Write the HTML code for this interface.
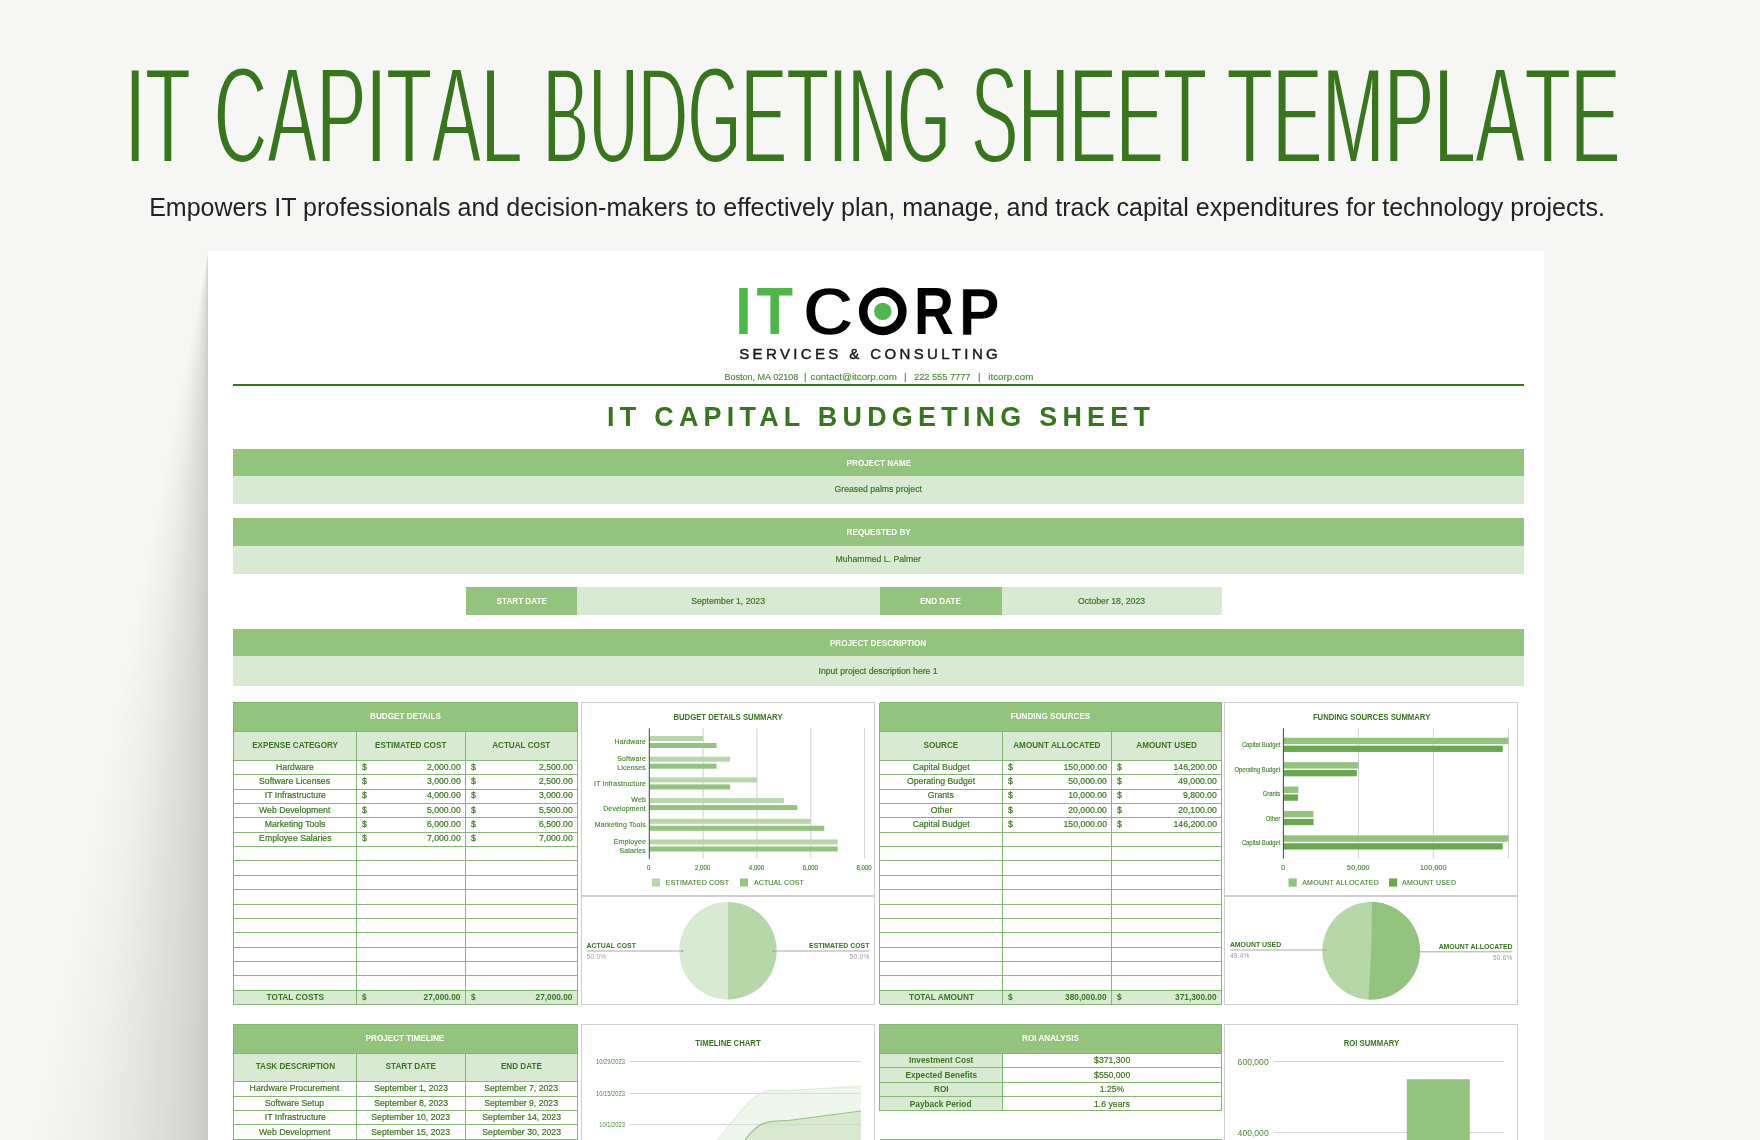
<!DOCTYPE html>
<html lang="en"><head><meta charset="utf-8"><title>IT Capital Budgeting Sheet Template</title>
<style>
html,body{margin:0;padding:0}
body{width:1760px;height:1140px;overflow:hidden;background:#f6f6f4;position:relative;font-family:"Liberation Sans", sans-serif;}
#pg>div,.abs{position:absolute}
#pg{position:absolute;left:0;top:0;width:1760px;height:1140px;overflow:hidden;will-change:transform}
.t{display:flex;align-items:center;white-space:nowrap;box-sizing:border-box;color:#38761d;}
.bigtitle{filter:url(#thin);left:0;top:40px;width:1760px;height:150px;text-align:center;color:#38761d;font-size:138px;line-height:150px;white-space:nowrap}
.bigtitle span{position:absolute;top:0;display:block;transform-origin:0 50%;font-kerning:none}
.sub{left:-3.5px;top:192px;width:1760px;text-align:center;font-size:26.5px;line-height:30px;transform:scaleX(0.9445);transform-origin:center center;color:#222;white-space:nowrap}
.svc{font-size:15px;letter-spacing:3.37px;color:#1a1a1a;padding-left:3.37px;-webkit-text-stroke:0.45px #1a1a1a}
.contact{font-size:9.9px;color:#4a8a33;-webkit-text-stroke:0.15px #4a8a33}
.sheettitle{font-size:26.9px;font-weight:700;letter-spacing:5.26px;padding-left:5.26px;color:#38761d}
.bh{font-size:9.3px;font-weight:700;color:#fff;padding-bottom:2px}
.bv{font-size:9.2px;padding-bottom:2px;-webkit-text-stroke:0.2px #38761d}
.th{font-size:9.3px;font-weight:700;padding-bottom:2px}
.td{font-size:9.2px;padding-bottom:2px;-webkit-text-stroke:0.2px #38761d}
.tt{font-size:9.3px;font-weight:700;padding-bottom:2px}
.b0{padding-bottom:0}
.tt2{padding-bottom:0.6px}
.tt3,.td3{padding-bottom:0}
.td2{padding-bottom:0.8px}
</style></head>
<body>
<svg class="abs" width="0" height="0" style="left:0;top:0"><defs><filter id="thin" x="0" y="0" width="100%" height="100%"><feMorphology operator="erode" radius="0 2"/></filter></defs></svg>
<div id="pg">
<div class="bigtitle"><span style="left:125.23px;transform:scaleX(0.5317)">IT</span> <span style="left:213.74px;transform:scaleX(0.5359)">CAPITAL</span> <span style="left:543.13px;transform:scaleX(0.4967)">BUDGETING</span> <span style="left:970.54px;transform:scaleX(0.512)">SHEET</span> <span style="left:1227.08px;transform:scaleX(0.5397)">TEMPLATE</span></div>
<div class="sub">Empowers IT professionals and decision-makers to effectively plan, manage, and track capital expenditures for technology projects.</div>
<div style="left:0;top:251px;width:208px;height:889px;background:conic-gradient(from 180deg at 100% 0%,rgba(0,0,0,.17) 0deg,rgba(0,0,0,.118) 2.2deg,rgba(0,0,0,.065) 5deg,rgba(0,0,0,.028) 7.9deg,rgba(0,0,0,.008) 10.2deg,rgba(0,0,0,0) 11.2deg,rgba(0,0,0,0) 360deg)"></div>
<div style="left:208px;top:251px;width:1336px;height:900px;background:#fff;"></div>
<svg class="abs" style="left:730px;top:280px" width="280" height="60" viewBox="730 280 280 60" font-family='"Liberation Sans", sans-serif' font-weight="700" font-size="100"><text transform="translate(735.15,334.30) scale(0.5901,0.6643)" fill="#4db848">I</text><text transform="translate(756.53,334.30) scale(0.5978,0.6643)" fill="#4db848">T</text><text transform="translate(802.80,335.03) scale(0.7066,0.6864)" fill="#000" stroke="#fff" stroke-width="2.01">C</text><text transform="translate(855.75,334.84) scale(0.6951,0.6808)" fill="#000" stroke="#fff" stroke-width="4.65">O</text><text transform="translate(914.01,334.30) scale(0.5514,0.6643)" fill="#000">R</text><text transform="translate(958.80,334.60) scale(0.6132,0.6730)" fill="#000" stroke="#fff" stroke-width="0.93">P</text><circle cx="882.75" cy="311.4" r="19.6" fill="none" stroke="#000" stroke-width="8.5"/><circle cx="882.8" cy="311.4" r="8.7" fill="#4db848"/></svg>
<div class="t svc" style="left:600px;top:343.2px;width:537px;height:20px;justify-content:center">SERVICES &amp; CONSULTING</div>
<div class="t contact" style="left:701.65px;top:369.4px;width:120px;height:14px;justify-content:center;"><span style="display:inline-block;transform:scaleX(0.9159);transform-origin:center center">Boston, MA 02108</span></div>
<div class="t contact" style="left:745.2px;top:369.4px;width:120px;height:14px;justify-content:center;">|</div>
<div class="t contact" style="left:794.05px;top:369.4px;width:120px;height:14px;justify-content:center;"><span style="display:inline-block;transform:scaleX(0.9872);transform-origin:center center">contact@itcorp.com</span></div>
<div class="t contact" style="left:845.4px;top:369.4px;width:120px;height:14px;justify-content:center;">|</div>
<div class="t contact" style="left:882.25px;top:369.4px;width:120px;height:14px;justify-content:center;"><span style="display:inline-block;transform:scaleX(0.9331);transform-origin:center center">222 555 7777</span></div>
<div class="t contact" style="left:919.4px;top:369.4px;width:120px;height:14px;justify-content:center;">|</div>
<div class="t contact" style="left:950.45px;top:369.4px;width:120px;height:14px;justify-content:center;"><span style="display:inline-block;transform:scaleX(0.9878);transform-origin:center center">itcorp.com</span></div>
<div style="left:233px;top:384px;width:1291px;height:2px;background:#38761d;"></div>
<div class="t sheettitle" style="left:233px;top:400.6px;width:1291px;height:33px;justify-content:center">IT CAPITAL BUDGETING SHEET</div>
<div style="left:233px;top:449px;width:1291px;height:27px;background:#93c47d;"></div>
<div style="left:233px;top:476px;width:1291px;height:28px;background:#d9ead3;"></div>
<div class="t bh b0" style="left:233px;top:449px;width:1291px;height:27px;justify-content:center;"><span style="display:inline-block;transform:scaleX(0.875);transform-origin:center center">PROJECT NAME</span></div>
<div class="t bv " style="left:233px;top:476px;width:1291px;height:28px;justify-content:center;"><span style="display:inline-block;transform:scaleX(0.945);transform-origin:center center">Greased palms project</span></div>
<div style="left:233px;top:518px;width:1291px;height:27.5px;background:#93c47d;"></div>
<div style="left:233px;top:545.5px;width:1291px;height:28px;background:#d9ead3;"></div>
<div class="t bh b0" style="left:233px;top:518px;width:1291px;height:27.5px;justify-content:center;"><span style="display:inline-block;transform:scaleX(0.875);transform-origin:center center">REQUESTED BY</span></div>
<div class="t bv " style="left:233px;top:545.5px;width:1291px;height:28px;justify-content:center;"><span style="display:inline-block;transform:scaleX(0.945);transform-origin:center center">Muhammed L. Palmer</span></div>
<div style="left:233px;top:629px;width:1291px;height:27px;background:#93c47d;"></div>
<div style="left:233px;top:656px;width:1291px;height:29.5px;background:#d9ead3;"></div>
<div class="t bh b0" style="left:233px;top:629px;width:1291px;height:27px;justify-content:center;"><span style="display:inline-block;transform:scaleX(0.875);transform-origin:center center">PROJECT DESCRIPTION</span></div>
<div class="t bv b0" style="left:233px;top:656px;width:1291px;height:29.5px;justify-content:center;"><span style="display:inline-block;transform:scaleX(0.945);transform-origin:center center">Input project description here 1</span></div>
<div style="left:465.5px;top:587px;width:111.5px;height:28.4px;background:#93c47d;"></div>
<div style="left:577px;top:587px;width:302.5px;height:28.4px;background:#d9ead3;"></div>
<div style="left:879.5px;top:587px;width:122.5px;height:28.4px;background:#93c47d;"></div>
<div style="left:1002px;top:587px;width:219.5px;height:28.4px;background:#d9ead3;"></div>
<div class="t bh b0" style="left:465.5px;top:587.5px;width:111.5px;height:27.75px;justify-content:center;"><span style="display:inline-block;transform:scaleX(0.875);transform-origin:center center">START DATE</span></div>
<div class="t bv b0" style="left:577px;top:587.5px;width:302.5px;height:27.75px;justify-content:center;"><span style="display:inline-block;transform:scaleX(0.945);transform-origin:center center">September 1, 2023</span></div>
<div class="t bh b0" style="left:879.5px;top:587.5px;width:122.5px;height:27.75px;justify-content:center;"><span style="display:inline-block;transform:scaleX(0.875);transform-origin:center center">END DATE</span></div>
<div class="t bv b0" style="left:1002px;top:587.5px;width:219.5px;height:27.75px;justify-content:center;"><span style="display:inline-block;transform:scaleX(0.945);transform-origin:center center">October 18, 2023</span></div>
<div style="left:233.25px;top:702.5px;width:344.25px;height:29px;background:#93c47d;"></div>
<div style="left:233.25px;top:731.5px;width:344.25px;height:29px;background:#d9ead3;"></div>
<div class="t bh" style="left:233.25px;top:702.5px;width:344.25px;height:29px;justify-content:center;"><span style="display:inline-block;transform:scaleX(0.875);transform-origin:center center">BUDGET DETAILS</span></div>
<div class="t th" style="left:233.25px;top:731.5px;width:123.25px;height:29px;justify-content:center;"><span style="display:inline-block;transform:scaleX(0.875);transform-origin:center center">EXPENSE CATEGORY</span></div>
<div class="t th" style="left:356.5px;top:731.5px;width:109px;height:29px;justify-content:center;"><span style="display:inline-block;transform:scaleX(0.875);transform-origin:center center">ESTIMATED COST</span></div>
<div class="t th" style="left:465.5px;top:731.5px;width:112px;height:29px;justify-content:center;"><span style="display:inline-block;transform:scaleX(0.875);transform-origin:center center">ACTUAL COST</span></div>
<div style="left:233.25px;top:990.1px;width:344.25px;height:14.35px;background:#d9ead3;"></div>
<div class="t td" style="left:233.25px;top:760.5px;width:123.25px;height:14.35px;justify-content:center;"><span style="display:inline-block;transform:scaleX(0.945);transform-origin:center center">Hardware</span></div>
<div class="t td" style="left:361.5px;top:760.5px;width:20px;height:14.35px;justify-content:flex-start;"><span style="display:inline-block;transform:scaleX(0.945);transform-origin:left center">$</span></div>
<div class="t td" style="left:356.5px;top:760.5px;width:104px;height:14.35px;justify-content:flex-end;"><span style="display:inline-block;transform:scaleX(0.945);transform-origin:right center">2,000.00</span></div>
<div class="t td" style="left:470.5px;top:760.5px;width:20px;height:14.35px;justify-content:flex-start;"><span style="display:inline-block;transform:scaleX(0.945);transform-origin:left center">$</span></div>
<div class="t td" style="left:465.5px;top:760.5px;width:107px;height:14.35px;justify-content:flex-end;"><span style="display:inline-block;transform:scaleX(0.945);transform-origin:right center">2,500.00</span></div>
<div class="t td" style="left:233.25px;top:774.85px;width:123.25px;height:14.35px;justify-content:center;"><span style="display:inline-block;transform:scaleX(0.945);transform-origin:center center">Software Licenses</span></div>
<div class="t td" style="left:361.5px;top:774.85px;width:20px;height:14.35px;justify-content:flex-start;"><span style="display:inline-block;transform:scaleX(0.945);transform-origin:left center">$</span></div>
<div class="t td" style="left:356.5px;top:774.85px;width:104px;height:14.35px;justify-content:flex-end;"><span style="display:inline-block;transform:scaleX(0.945);transform-origin:right center">3,000.00</span></div>
<div class="t td" style="left:470.5px;top:774.85px;width:20px;height:14.35px;justify-content:flex-start;"><span style="display:inline-block;transform:scaleX(0.945);transform-origin:left center">$</span></div>
<div class="t td" style="left:465.5px;top:774.85px;width:107px;height:14.35px;justify-content:flex-end;"><span style="display:inline-block;transform:scaleX(0.945);transform-origin:right center">2,500.00</span></div>
<div class="t td" style="left:233.25px;top:789.2px;width:123.25px;height:14.35px;justify-content:center;"><span style="display:inline-block;transform:scaleX(0.945);transform-origin:center center">IT Infrastructure</span></div>
<div class="t td" style="left:361.5px;top:789.2px;width:20px;height:14.35px;justify-content:flex-start;"><span style="display:inline-block;transform:scaleX(0.945);transform-origin:left center">$</span></div>
<div class="t td" style="left:356.5px;top:789.2px;width:104px;height:14.35px;justify-content:flex-end;"><span style="display:inline-block;transform:scaleX(0.945);transform-origin:right center">4,000.00</span></div>
<div class="t td" style="left:470.5px;top:789.2px;width:20px;height:14.35px;justify-content:flex-start;"><span style="display:inline-block;transform:scaleX(0.945);transform-origin:left center">$</span></div>
<div class="t td" style="left:465.5px;top:789.2px;width:107px;height:14.35px;justify-content:flex-end;"><span style="display:inline-block;transform:scaleX(0.945);transform-origin:right center">3,000.00</span></div>
<div class="t td" style="left:233.25px;top:803.55px;width:123.25px;height:14.35px;justify-content:center;"><span style="display:inline-block;transform:scaleX(0.945);transform-origin:center center">Web Development</span></div>
<div class="t td" style="left:361.5px;top:803.55px;width:20px;height:14.35px;justify-content:flex-start;"><span style="display:inline-block;transform:scaleX(0.945);transform-origin:left center">$</span></div>
<div class="t td" style="left:356.5px;top:803.55px;width:104px;height:14.35px;justify-content:flex-end;"><span style="display:inline-block;transform:scaleX(0.945);transform-origin:right center">5,000.00</span></div>
<div class="t td" style="left:470.5px;top:803.55px;width:20px;height:14.35px;justify-content:flex-start;"><span style="display:inline-block;transform:scaleX(0.945);transform-origin:left center">$</span></div>
<div class="t td" style="left:465.5px;top:803.55px;width:107px;height:14.35px;justify-content:flex-end;"><span style="display:inline-block;transform:scaleX(0.945);transform-origin:right center">5,500.00</span></div>
<div class="t td" style="left:233.25px;top:817.9px;width:123.25px;height:14.35px;justify-content:center;"><span style="display:inline-block;transform:scaleX(0.945);transform-origin:center center">Marketing Tools</span></div>
<div class="t td" style="left:361.5px;top:817.9px;width:20px;height:14.35px;justify-content:flex-start;"><span style="display:inline-block;transform:scaleX(0.945);transform-origin:left center">$</span></div>
<div class="t td" style="left:356.5px;top:817.9px;width:104px;height:14.35px;justify-content:flex-end;"><span style="display:inline-block;transform:scaleX(0.945);transform-origin:right center">6,000.00</span></div>
<div class="t td" style="left:470.5px;top:817.9px;width:20px;height:14.35px;justify-content:flex-start;"><span style="display:inline-block;transform:scaleX(0.945);transform-origin:left center">$</span></div>
<div class="t td" style="left:465.5px;top:817.9px;width:107px;height:14.35px;justify-content:flex-end;"><span style="display:inline-block;transform:scaleX(0.945);transform-origin:right center">6,500.00</span></div>
<div class="t td" style="left:233.25px;top:832.25px;width:123.25px;height:14.35px;justify-content:center;"><span style="display:inline-block;transform:scaleX(0.945);transform-origin:center center">Employee Salaries</span></div>
<div class="t td" style="left:361.5px;top:832.25px;width:20px;height:14.35px;justify-content:flex-start;"><span style="display:inline-block;transform:scaleX(0.945);transform-origin:left center">$</span></div>
<div class="t td" style="left:356.5px;top:832.25px;width:104px;height:14.35px;justify-content:flex-end;"><span style="display:inline-block;transform:scaleX(0.945);transform-origin:right center">7,000.00</span></div>
<div class="t td" style="left:470.5px;top:832.25px;width:20px;height:14.35px;justify-content:flex-start;"><span style="display:inline-block;transform:scaleX(0.945);transform-origin:left center">$</span></div>
<div class="t td" style="left:465.5px;top:832.25px;width:107px;height:14.35px;justify-content:flex-end;"><span style="display:inline-block;transform:scaleX(0.945);transform-origin:right center">7,000.00</span></div>
<div class="t tt tt2" style="left:233.25px;top:990.1px;width:123.25px;height:14.35px;justify-content:center;"><span style="display:inline-block;transform:scaleX(0.89);transform-origin:center center">TOTAL COSTS</span></div>
<div class="t tt tt2" style="left:361.5px;top:990.1px;width:20px;height:14.35px;justify-content:flex-start;"><span style="display:inline-block;transform:scaleX(0.89);transform-origin:left center">$</span></div>
<div class="t tt tt2" style="left:356.5px;top:990.1px;width:104px;height:14.35px;justify-content:flex-end;"><span style="display:inline-block;transform:scaleX(0.89);transform-origin:right center">27,000.00</span></div>
<div class="t tt tt2" style="left:470.5px;top:990.1px;width:20px;height:14.35px;justify-content:flex-start;"><span style="display:inline-block;transform:scaleX(0.89);transform-origin:left center">$</span></div>
<div class="t tt tt2" style="left:465.5px;top:990.1px;width:107px;height:14.35px;justify-content:flex-end;"><span style="display:inline-block;transform:scaleX(0.89);transform-origin:right center">27,000.00</span></div>
<div style="left:233.25px;top:702px;width:344.75px;height:1px;background:#84b771;"></div>
<div style="left:233.25px;top:731px;width:344.75px;height:1px;background:#84b771;"></div>
<div style="left:233.25px;top:760px;width:344.75px;height:1px;background:#84b771;"></div>
<div style="left:233.25px;top:774px;width:344.75px;height:1px;background:#84b771;"></div>
<div style="left:233.25px;top:789px;width:344.75px;height:1px;background:#84b771;"></div>
<div style="left:233.25px;top:803px;width:344.75px;height:1px;background:#84b771;"></div>
<div style="left:233.25px;top:817px;width:344.75px;height:1px;background:#84b771;"></div>
<div style="left:233.25px;top:832px;width:344.75px;height:1px;background:#84b771;"></div>
<div style="left:233.25px;top:846px;width:344.75px;height:1px;background:#84b771;"></div>
<div style="left:233.25px;top:860px;width:344.75px;height:1px;background:#84b771;"></div>
<div style="left:233.25px;top:875px;width:344.75px;height:1px;background:#84b771;"></div>
<div style="left:233.25px;top:889px;width:344.75px;height:1px;background:#84b771;"></div>
<div style="left:233.25px;top:904px;width:344.75px;height:1px;background:#84b771;"></div>
<div style="left:233.25px;top:918px;width:344.75px;height:1px;background:#84b771;"></div>
<div style="left:233.25px;top:932px;width:344.75px;height:1px;background:#84b771;"></div>
<div style="left:233.25px;top:947px;width:344.75px;height:1px;background:#84b771;"></div>
<div style="left:233.25px;top:961px;width:344.75px;height:1px;background:#84b771;"></div>
<div style="left:233.25px;top:975px;width:344.75px;height:1px;background:#84b771;"></div>
<div style="left:233.25px;top:990px;width:344.75px;height:1px;background:#84b771;"></div>
<div style="left:233.25px;top:1004px;width:344.75px;height:1px;background:#84b771;"></div>
<div style="left:233px;top:702.5px;width:1px;height:301.95px;background:#84b771;"></div>
<div style="left:577px;top:702.5px;width:1px;height:301.95px;background:#84b771;"></div>
<div style="left:356px;top:731.5px;width:1px;height:272.95px;background:#84b771;"></div>
<div style="left:465px;top:731.5px;width:1px;height:272.95px;background:#84b771;"></div>
<div style="left:879.5px;top:702.5px;width:342px;height:29px;background:#93c47d;"></div>
<div style="left:879.5px;top:731.5px;width:342px;height:29px;background:#d9ead3;"></div>
<div class="t bh" style="left:879.5px;top:702.5px;width:342px;height:29px;justify-content:center;"><span style="display:inline-block;transform:scaleX(0.875);transform-origin:center center">FUNDING SOURCES</span></div>
<div class="t th" style="left:879.5px;top:731.5px;width:123px;height:29px;justify-content:center;"><span style="display:inline-block;transform:scaleX(0.875);transform-origin:center center">SOURCE</span></div>
<div class="t th" style="left:1002.5px;top:731.5px;width:109.25px;height:29px;justify-content:center;"><span style="display:inline-block;transform:scaleX(0.875);transform-origin:center center">AMOUNT ALLOCATED</span></div>
<div class="t th" style="left:1111.75px;top:731.5px;width:109.75px;height:29px;justify-content:center;"><span style="display:inline-block;transform:scaleX(0.875);transform-origin:center center">AMOUNT USED</span></div>
<div style="left:879.5px;top:990.1px;width:342px;height:14.35px;background:#d9ead3;"></div>
<div class="t td" style="left:879.5px;top:760.5px;width:123px;height:14.35px;justify-content:center;"><span style="display:inline-block;transform:scaleX(0.945);transform-origin:center center">Capital Budget</span></div>
<div class="t td" style="left:1007.5px;top:760.5px;width:20px;height:14.35px;justify-content:flex-start;"><span style="display:inline-block;transform:scaleX(0.945);transform-origin:left center">$</span></div>
<div class="t td" style="left:1002.5px;top:760.5px;width:104.25px;height:14.35px;justify-content:flex-end;"><span style="display:inline-block;transform:scaleX(0.945);transform-origin:right center">150,000.00</span></div>
<div class="t td" style="left:1116.75px;top:760.5px;width:20px;height:14.35px;justify-content:flex-start;"><span style="display:inline-block;transform:scaleX(0.945);transform-origin:left center">$</span></div>
<div class="t td" style="left:1111.75px;top:760.5px;width:104.75px;height:14.35px;justify-content:flex-end;"><span style="display:inline-block;transform:scaleX(0.945);transform-origin:right center">146,200.00</span></div>
<div class="t td" style="left:879.5px;top:774.85px;width:123px;height:14.35px;justify-content:center;"><span style="display:inline-block;transform:scaleX(0.945);transform-origin:center center">Operating Budget</span></div>
<div class="t td" style="left:1007.5px;top:774.85px;width:20px;height:14.35px;justify-content:flex-start;"><span style="display:inline-block;transform:scaleX(0.945);transform-origin:left center">$</span></div>
<div class="t td" style="left:1002.5px;top:774.85px;width:104.25px;height:14.35px;justify-content:flex-end;"><span style="display:inline-block;transform:scaleX(0.945);transform-origin:right center">50,000.00</span></div>
<div class="t td" style="left:1116.75px;top:774.85px;width:20px;height:14.35px;justify-content:flex-start;"><span style="display:inline-block;transform:scaleX(0.945);transform-origin:left center">$</span></div>
<div class="t td" style="left:1111.75px;top:774.85px;width:104.75px;height:14.35px;justify-content:flex-end;"><span style="display:inline-block;transform:scaleX(0.945);transform-origin:right center">49,000.00</span></div>
<div class="t td" style="left:879.5px;top:789.2px;width:123px;height:14.35px;justify-content:center;"><span style="display:inline-block;transform:scaleX(0.945);transform-origin:center center">Grants</span></div>
<div class="t td" style="left:1007.5px;top:789.2px;width:20px;height:14.35px;justify-content:flex-start;"><span style="display:inline-block;transform:scaleX(0.945);transform-origin:left center">$</span></div>
<div class="t td" style="left:1002.5px;top:789.2px;width:104.25px;height:14.35px;justify-content:flex-end;"><span style="display:inline-block;transform:scaleX(0.945);transform-origin:right center">10,000.00</span></div>
<div class="t td" style="left:1116.75px;top:789.2px;width:20px;height:14.35px;justify-content:flex-start;"><span style="display:inline-block;transform:scaleX(0.945);transform-origin:left center">$</span></div>
<div class="t td" style="left:1111.75px;top:789.2px;width:104.75px;height:14.35px;justify-content:flex-end;"><span style="display:inline-block;transform:scaleX(0.945);transform-origin:right center">9,800.00</span></div>
<div class="t td" style="left:879.5px;top:803.55px;width:123px;height:14.35px;justify-content:center;"><span style="display:inline-block;transform:scaleX(0.945);transform-origin:center center">Other</span></div>
<div class="t td" style="left:1007.5px;top:803.55px;width:20px;height:14.35px;justify-content:flex-start;"><span style="display:inline-block;transform:scaleX(0.945);transform-origin:left center">$</span></div>
<div class="t td" style="left:1002.5px;top:803.55px;width:104.25px;height:14.35px;justify-content:flex-end;"><span style="display:inline-block;transform:scaleX(0.945);transform-origin:right center">20,000.00</span></div>
<div class="t td" style="left:1116.75px;top:803.55px;width:20px;height:14.35px;justify-content:flex-start;"><span style="display:inline-block;transform:scaleX(0.945);transform-origin:left center">$</span></div>
<div class="t td" style="left:1111.75px;top:803.55px;width:104.75px;height:14.35px;justify-content:flex-end;"><span style="display:inline-block;transform:scaleX(0.945);transform-origin:right center">20,100.00</span></div>
<div class="t td" style="left:879.5px;top:817.9px;width:123px;height:14.35px;justify-content:center;"><span style="display:inline-block;transform:scaleX(0.945);transform-origin:center center">Capital Budget</span></div>
<div class="t td" style="left:1007.5px;top:817.9px;width:20px;height:14.35px;justify-content:flex-start;"><span style="display:inline-block;transform:scaleX(0.945);transform-origin:left center">$</span></div>
<div class="t td" style="left:1002.5px;top:817.9px;width:104.25px;height:14.35px;justify-content:flex-end;"><span style="display:inline-block;transform:scaleX(0.945);transform-origin:right center">150,000.00</span></div>
<div class="t td" style="left:1116.75px;top:817.9px;width:20px;height:14.35px;justify-content:flex-start;"><span style="display:inline-block;transform:scaleX(0.945);transform-origin:left center">$</span></div>
<div class="t td" style="left:1111.75px;top:817.9px;width:104.75px;height:14.35px;justify-content:flex-end;"><span style="display:inline-block;transform:scaleX(0.945);transform-origin:right center">146,200.00</span></div>
<div class="t tt tt2" style="left:879.5px;top:990.1px;width:123px;height:14.35px;justify-content:center;"><span style="display:inline-block;transform:scaleX(0.89);transform-origin:center center">TOTAL AMOUNT</span></div>
<div class="t tt tt2" style="left:1007.5px;top:990.1px;width:20px;height:14.35px;justify-content:flex-start;"><span style="display:inline-block;transform:scaleX(0.89);transform-origin:left center">$</span></div>
<div class="t tt tt2" style="left:1002.5px;top:990.1px;width:104.25px;height:14.35px;justify-content:flex-end;"><span style="display:inline-block;transform:scaleX(0.89);transform-origin:right center">380,000.00</span></div>
<div class="t tt tt2" style="left:1116.75px;top:990.1px;width:20px;height:14.35px;justify-content:flex-start;"><span style="display:inline-block;transform:scaleX(0.89);transform-origin:left center">$</span></div>
<div class="t tt tt2" style="left:1111.75px;top:990.1px;width:104.75px;height:14.35px;justify-content:flex-end;"><span style="display:inline-block;transform:scaleX(0.89);transform-origin:right center">371,300.00</span></div>
<div style="left:879.5px;top:702px;width:342.5px;height:1px;background:#84b771;"></div>
<div style="left:879.5px;top:731px;width:342.5px;height:1px;background:#84b771;"></div>
<div style="left:879.5px;top:760px;width:342.5px;height:1px;background:#84b771;"></div>
<div style="left:879.5px;top:774px;width:342.5px;height:1px;background:#84b771;"></div>
<div style="left:879.5px;top:789px;width:342.5px;height:1px;background:#84b771;"></div>
<div style="left:879.5px;top:803px;width:342.5px;height:1px;background:#84b771;"></div>
<div style="left:879.5px;top:817px;width:342.5px;height:1px;background:#84b771;"></div>
<div style="left:879.5px;top:832px;width:342.5px;height:1px;background:#84b771;"></div>
<div style="left:879.5px;top:846px;width:342.5px;height:1px;background:#84b771;"></div>
<div style="left:879.5px;top:860px;width:342.5px;height:1px;background:#84b771;"></div>
<div style="left:879.5px;top:875px;width:342.5px;height:1px;background:#84b771;"></div>
<div style="left:879.5px;top:889px;width:342.5px;height:1px;background:#84b771;"></div>
<div style="left:879.5px;top:904px;width:342.5px;height:1px;background:#84b771;"></div>
<div style="left:879.5px;top:918px;width:342.5px;height:1px;background:#84b771;"></div>
<div style="left:879.5px;top:932px;width:342.5px;height:1px;background:#84b771;"></div>
<div style="left:879.5px;top:947px;width:342.5px;height:1px;background:#84b771;"></div>
<div style="left:879.5px;top:961px;width:342.5px;height:1px;background:#84b771;"></div>
<div style="left:879.5px;top:975px;width:342.5px;height:1px;background:#84b771;"></div>
<div style="left:879.5px;top:990px;width:342.5px;height:1px;background:#84b771;"></div>
<div style="left:879.5px;top:1004px;width:342.5px;height:1px;background:#84b771;"></div>
<div style="left:879px;top:702.5px;width:1px;height:301.95px;background:#84b771;"></div>
<div style="left:1221px;top:702.5px;width:1px;height:301.95px;background:#84b771;"></div>
<div style="left:1002px;top:731.5px;width:1px;height:272.95px;background:#84b771;"></div>
<div style="left:1111px;top:731.5px;width:1px;height:272.95px;background:#84b771;"></div>
<div style="left:233.25px;top:1024px;width:344.25px;height:29.3px;background:#93c47d;"></div>
<div style="left:233.25px;top:1053.3px;width:344.25px;height:28.4px;background:#d9ead3;"></div>
<div class="t bh" style="left:233.25px;top:1024px;width:344.25px;height:29.3px;justify-content:center;"><span style="display:inline-block;transform:scaleX(0.875);transform-origin:center center">PROJECT TIMELINE</span></div>
<div class="t th" style="left:233.25px;top:1053.3px;width:123.25px;height:28.4px;justify-content:center;"><span style="display:inline-block;transform:scaleX(0.875);transform-origin:center center">TASK DESCRIPTION</span></div>
<div class="t th" style="left:356.5px;top:1053.3px;width:109px;height:28.4px;justify-content:center;"><span style="display:inline-block;transform:scaleX(0.875);transform-origin:center center">START DATE</span></div>
<div class="t th" style="left:465.5px;top:1053.3px;width:112px;height:28.4px;justify-content:center;"><span style="display:inline-block;transform:scaleX(0.875);transform-origin:center center">END DATE</span></div>
<div class="t td td2" style="left:233.25px;top:1081.7px;width:123.25px;height:14.35px;justify-content:center;"><span style="display:inline-block;transform:scaleX(0.945);transform-origin:center center">Hardware Procurement</span></div>
<div class="t td td2" style="left:356.5px;top:1081.7px;width:109px;height:14.35px;justify-content:center;"><span style="display:inline-block;transform:scaleX(0.945);transform-origin:center center">September 1, 2023</span></div>
<div class="t td td2" style="left:465.5px;top:1081.7px;width:112px;height:14.35px;justify-content:center;"><span style="display:inline-block;transform:scaleX(0.945);transform-origin:center center">September 7, 2023</span></div>
<div class="t td td2" style="left:233.25px;top:1096.05px;width:123.25px;height:14.35px;justify-content:center;"><span style="display:inline-block;transform:scaleX(0.945);transform-origin:center center">Software Setup</span></div>
<div class="t td td2" style="left:356.5px;top:1096.05px;width:109px;height:14.35px;justify-content:center;"><span style="display:inline-block;transform:scaleX(0.945);transform-origin:center center">September 8, 2023</span></div>
<div class="t td td2" style="left:465.5px;top:1096.05px;width:112px;height:14.35px;justify-content:center;"><span style="display:inline-block;transform:scaleX(0.945);transform-origin:center center">September 9, 2023</span></div>
<div class="t td td2" style="left:233.25px;top:1110.4px;width:123.25px;height:14.35px;justify-content:center;"><span style="display:inline-block;transform:scaleX(0.945);transform-origin:center center">IT Infrastructure</span></div>
<div class="t td td2" style="left:356.5px;top:1110.4px;width:109px;height:14.35px;justify-content:center;"><span style="display:inline-block;transform:scaleX(0.945);transform-origin:center center">September 10, 2023</span></div>
<div class="t td td2" style="left:465.5px;top:1110.4px;width:112px;height:14.35px;justify-content:center;"><span style="display:inline-block;transform:scaleX(0.945);transform-origin:center center">September 14, 2023</span></div>
<div class="t td td2" style="left:233.25px;top:1124.75px;width:123.25px;height:14.35px;justify-content:center;"><span style="display:inline-block;transform:scaleX(0.945);transform-origin:center center">Web Development</span></div>
<div class="t td td2" style="left:356.5px;top:1124.75px;width:109px;height:14.35px;justify-content:center;"><span style="display:inline-block;transform:scaleX(0.945);transform-origin:center center">September 15, 2023</span></div>
<div class="t td td2" style="left:465.5px;top:1124.75px;width:112px;height:14.35px;justify-content:center;"><span style="display:inline-block;transform:scaleX(0.945);transform-origin:center center">September 30, 2023</span></div>
<div style="left:233.25px;top:1024px;width:344.75px;height:1px;background:#84b771;"></div>
<div style="left:233.25px;top:1053px;width:344.75px;height:1px;background:#84b771;"></div>
<div style="left:233.25px;top:1081px;width:344.75px;height:1px;background:#84b771;"></div>
<div style="left:233.25px;top:1096px;width:344.75px;height:1px;background:#84b771;"></div>
<div style="left:233.25px;top:1110px;width:344.75px;height:1px;background:#84b771;"></div>
<div style="left:233.25px;top:1124px;width:344.75px;height:1px;background:#84b771;"></div>
<div style="left:233.25px;top:1139px;width:344.75px;height:1px;background:#84b771;"></div>
<div style="left:233px;top:1024px;width:1px;height:117px;background:#84b771;"></div>
<div style="left:577px;top:1024px;width:1px;height:117px;background:#84b771;"></div>
<div style="left:356px;top:1053.3px;width:1px;height:87.7px;background:#84b771;"></div>
<div style="left:465px;top:1053.3px;width:1px;height:87.7px;background:#84b771;"></div>
<div style="left:879.5px;top:1024px;width:342px;height:29px;background:#93c47d;"></div>
<div class="t bh" style="left:879.5px;top:1024px;width:342px;height:29px;justify-content:center;"><span style="display:inline-block;transform:scaleX(0.875);transform-origin:center center">ROI ANALYSIS</span></div>
<div style="left:879.5px;top:1053.3px;width:123px;height:57.4px;background:#d9ead3;"></div>
<div class="t tt tt3" style="left:879.5px;top:1053.3px;width:123px;height:14.35px;justify-content:center;"><span style="display:inline-block;transform:scaleX(0.89);transform-origin:center center">Investment Cost</span></div>
<div class="t td td3" style="left:1002.5px;top:1053.3px;width:219px;height:14.35px;justify-content:center;"><span style="display:inline-block;transform:scaleX(0.945);transform-origin:center center">$371,300</span></div>
<div class="t tt tt3" style="left:879.5px;top:1067.65px;width:123px;height:14.35px;justify-content:center;"><span style="display:inline-block;transform:scaleX(0.89);transform-origin:center center">Expected Benefits</span></div>
<div class="t td td3" style="left:1002.5px;top:1067.65px;width:219px;height:14.35px;justify-content:center;"><span style="display:inline-block;transform:scaleX(0.945);transform-origin:center center">$550,000</span></div>
<div class="t tt tt3" style="left:879.5px;top:1082px;width:123px;height:14.35px;justify-content:center;"><span style="display:inline-block;transform:scaleX(0.89);transform-origin:center center">ROI</span></div>
<div class="t td td3" style="left:1002.5px;top:1082px;width:219px;height:14.35px;justify-content:center;"><span style="display:inline-block;transform:scaleX(0.945);transform-origin:center center">1.25%</span></div>
<div class="t tt tt3" style="left:879.5px;top:1096.35px;width:123px;height:14.35px;justify-content:center;"><span style="display:inline-block;transform:scaleX(0.89);transform-origin:center center">Payback Period</span></div>
<div class="t td td3" style="left:1002.5px;top:1096.35px;width:219px;height:14.35px;justify-content:center;"><span style="display:inline-block;transform:scaleX(0.945);transform-origin:center center">1.6 years</span></div>
<div style="left:879.5px;top:1024px;width:342.5px;height:1px;background:#84b771;"></div>
<div style="left:879.5px;top:1053px;width:342.5px;height:1px;background:#84b771;"></div>
<div style="left:879.5px;top:1067px;width:342.5px;height:1px;background:#84b771;"></div>
<div style="left:879.5px;top:1082px;width:342.5px;height:1px;background:#84b771;"></div>
<div style="left:879.5px;top:1096px;width:342.5px;height:1px;background:#84b771;"></div>
<div style="left:879.5px;top:1110px;width:342.5px;height:1px;background:#84b771;"></div>
<div style="left:879px;top:1024px;width:1px;height:86.7px;background:#84b771;"></div>
<div style="left:1221px;top:1024px;width:1px;height:86.7px;background:#84b771;"></div>
<div style="left:1002px;top:1053px;width:1px;height:57.7px;background:#84b771;"></div>
<div style="left:879.5px;top:1139px;width:342.5px;height:1px;background:#84b771;"></div>
<svg class="abs" style="left:575px;top:695px" width="950" height="445" viewBox="575 695 950 445" font-family='"Liberation Sans", sans-serif'>
<rect x="581.5" y="702.5" width="293" height="193" fill="#fff" stroke="#cfcfcf" stroke-width="1"/>
<text x="0" y="0" transform="translate(728,719.7) scale(0.9,1)" font-size="8.6" text-anchor="middle" fill="#38761d" font-weight="700">BUDGET DETAILS SUMMARY</text>
<line x1="703.13" y1="728.3" x2="703.13" y2="859" stroke="#d0d0d0" stroke-width="1"/>
<line x1="756.96" y1="728.3" x2="756.96" y2="859" stroke="#d0d0d0" stroke-width="1"/>
<line x1="810.79" y1="728.3" x2="810.79" y2="859" stroke="#d0d0d0" stroke-width="1"/>
<line x1="864.62" y1="728.3" x2="864.62" y2="859" stroke="#d0d0d0" stroke-width="1"/>
<rect x="649.3" y="736" width="53.83" height="5" fill="#b6d7a8"/>
<rect x="649.3" y="743" width="67.29" height="5" fill="#93c47d"/>
<text x="646" y="744.4" font-size="6.9" text-anchor="end" fill="#43882d" font-weight="400" letter-spacing="0.2" stroke="#43882d" stroke-width="0.15">Hardware</text>
<rect x="649.3" y="756.7" width="80.75" height="5" fill="#b6d7a8"/>
<rect x="649.3" y="763.7" width="67.29" height="5" fill="#93c47d"/>
<text x="646" y="760.7" font-size="6.9" text-anchor="end" fill="#43882d" font-weight="400" letter-spacing="0.2" stroke="#43882d" stroke-width="0.15">Software</text>
<text x="646" y="769.7" font-size="6.9" text-anchor="end" fill="#43882d" font-weight="400" letter-spacing="0.2" stroke="#43882d" stroke-width="0.15">Licenses</text>
<rect x="649.3" y="777.4" width="107.66" height="5" fill="#b6d7a8"/>
<rect x="649.3" y="784.4" width="80.75" height="5" fill="#93c47d"/>
<text x="646" y="785.8" font-size="6.9" text-anchor="end" fill="#43882d" font-weight="400" letter-spacing="0.2" stroke="#43882d" stroke-width="0.15">IT Infrastructure</text>
<rect x="649.3" y="798.1" width="134.57" height="5" fill="#b6d7a8"/>
<rect x="649.3" y="805.1" width="148.03" height="5" fill="#93c47d"/>
<text x="646" y="802.1" font-size="6.9" text-anchor="end" fill="#43882d" font-weight="400" letter-spacing="0.2" stroke="#43882d" stroke-width="0.15">Web</text>
<text x="646" y="811.1" font-size="6.9" text-anchor="end" fill="#43882d" font-weight="400" letter-spacing="0.2" stroke="#43882d" stroke-width="0.15">Development</text>
<rect x="649.3" y="818.8" width="161.49" height="5" fill="#b6d7a8"/>
<rect x="649.3" y="825.8" width="174.95" height="5" fill="#93c47d"/>
<text x="646" y="827.2" font-size="6.9" text-anchor="end" fill="#43882d" font-weight="400" letter-spacing="0.2" stroke="#43882d" stroke-width="0.15">Marketing Tools</text>
<rect x="649.3" y="839.5" width="188.41" height="5" fill="#b6d7a8"/>
<rect x="649.3" y="846.5" width="188.41" height="5" fill="#93c47d"/>
<text x="646" y="843.5" font-size="6.9" text-anchor="end" fill="#43882d" font-weight="400" letter-spacing="0.2" stroke="#43882d" stroke-width="0.15">Employee</text>
<text x="646" y="852.5" font-size="6.9" text-anchor="end" fill="#43882d" font-weight="400" letter-spacing="0.2" stroke="#43882d" stroke-width="0.15">Salaries</text>
<line x1="649.3" y1="728.3" x2="649.3" y2="859" stroke="#444" stroke-width="1"/>
<text x="0" y="0" transform="translate(648.8,869.6) scale(0.92,1)" font-size="6.6" text-anchor="middle" fill="#43882d" font-weight="400" stroke="#43882d" stroke-width="0.15">0</text>
<text x="0" y="0" transform="translate(702.63,869.6) scale(0.92,1)" font-size="6.6" text-anchor="middle" fill="#43882d" font-weight="400" stroke="#43882d" stroke-width="0.15">2,000</text>
<text x="0" y="0" transform="translate(756.46,869.6) scale(0.92,1)" font-size="6.6" text-anchor="middle" fill="#43882d" font-weight="400" stroke="#43882d" stroke-width="0.15">4,000</text>
<text x="0" y="0" transform="translate(810.29,869.6) scale(0.92,1)" font-size="6.6" text-anchor="middle" fill="#43882d" font-weight="400" stroke="#43882d" stroke-width="0.15">6,000</text>
<text x="0" y="0" transform="translate(864.12,869.6) scale(0.92,1)" font-size="6.6" text-anchor="middle" fill="#43882d" font-weight="400" stroke="#43882d" stroke-width="0.15">8,000</text>
<rect x="652" y="878.5" width="8" height="8" fill="#b6d7a8"/>
<text x="665.8" y="885.2" font-size="7" text-anchor="start" fill="#43882d" font-weight="400" letter-spacing="0.17" stroke="#43882d" stroke-width="0.12">ESTIMATED COST</text>
<rect x="740" y="878.5" width="8" height="8" fill="#93c47d"/>
<text x="754" y="885.2" font-size="7" text-anchor="start" fill="#43882d" font-weight="400" letter-spacing="0.1" stroke="#43882d" stroke-width="0.12">ACTUAL COST</text>
<rect x="581.5" y="896.5" width="293" height="108" fill="#fff" stroke="#cfcfcf" stroke-width="1"/>
<path d="M728,902.0999999999999 A48.7,48.7 0 0 1 728,999.5 Z" fill="#b6d7a8"/>
<path d="M728,902.0999999999999 A48.7,48.7 0 0 0 728,999.5 Z" fill="#d9ead3"/>
<line x1="586.6" y1="951" x2="682.4" y2="951" stroke="#a8a8a8" stroke-width="1"/><circle cx="682.4" cy="951" r="1.1" fill="#a8a8a8"/>
<line x1="773.4" y1="951" x2="869.4" y2="951" stroke="#a8a8a8" stroke-width="1"/><circle cx="773.4" cy="951" r="1.1" fill="#a8a8a8"/>
<text x="586.6" y="948" font-size="6.9" text-anchor="start" fill="#38761d" font-weight="700">ACTUAL COST</text>
<text x="586.6" y="959.2" font-size="6.4" text-anchor="start" fill="#9a9a9a" font-weight="400" letter-spacing="0.3">50.0%</text>
<text x="869.4" y="948" font-size="6.9" text-anchor="end" fill="#38761d" font-weight="700">ESTIMATED COST</text>
<text x="869.4" y="959.2" font-size="6.4" text-anchor="end" fill="#9a9a9a" font-weight="400" letter-spacing="0.3">50.0%</text>
<rect x="1224.5" y="702.5" width="293" height="193" fill="#fff" stroke="#cfcfcf" stroke-width="1"/>
<text x="0" y="0" transform="translate(1371.6,719.5) scale(0.9,1)" font-size="8.6" text-anchor="middle" fill="#38761d" font-weight="700">FUNDING SOURCES SUMMARY</text>
<line x1="1358.4" y1="728.4" x2="1358.4" y2="858.5" stroke="#d0d0d0" stroke-width="1"/>
<line x1="1433.4" y1="728.4" x2="1433.4" y2="858.5" stroke="#d0d0d0" stroke-width="1"/>
<line x1="1508.4" y1="728.4" x2="1508.4" y2="858.5" stroke="#d0d0d0" stroke-width="1"/>
<rect x="1283.4" y="737.75" width="225" height="6.4" fill="#93c47d"/>
<rect x="1283.4" y="745.65" width="219.3" height="6.3" fill="#6aa84f"/>
<text x="0" y="0" transform="translate(1280.3,747.35) scale(0.85,1)" font-size="6.9" text-anchor="end" fill="#43882d" font-weight="400" stroke="#43882d" stroke-width="0.15">Capital Budget</text>
<rect x="1283.4" y="762.15" width="75" height="6.4" fill="#93c47d"/>
<rect x="1283.4" y="770.05" width="73.5" height="6.3" fill="#6aa84f"/>
<text x="0" y="0" transform="translate(1280.3,771.75) scale(0.85,1)" font-size="6.9" text-anchor="end" fill="#43882d" font-weight="400" stroke="#43882d" stroke-width="0.15">Operating Budget</text>
<rect x="1283.4" y="786.55" width="15" height="6.4" fill="#93c47d"/>
<rect x="1283.4" y="794.45" width="14.7" height="6.3" fill="#6aa84f"/>
<text x="0" y="0" transform="translate(1280.3,796.15) scale(0.85,1)" font-size="6.9" text-anchor="end" fill="#43882d" font-weight="400" stroke="#43882d" stroke-width="0.15">Grants</text>
<rect x="1283.4" y="810.95" width="30" height="6.4" fill="#93c47d"/>
<rect x="1283.4" y="818.85" width="30.15" height="6.3" fill="#6aa84f"/>
<text x="0" y="0" transform="translate(1280.3,820.55) scale(0.85,1)" font-size="6.9" text-anchor="end" fill="#43882d" font-weight="400" stroke="#43882d" stroke-width="0.15">Other</text>
<rect x="1283.4" y="835.35" width="225" height="6.4" fill="#93c47d"/>
<rect x="1283.4" y="843.25" width="219.3" height="6.3" fill="#6aa84f"/>
<text x="0" y="0" transform="translate(1280.3,844.95) scale(0.85,1)" font-size="6.9" text-anchor="end" fill="#43882d" font-weight="400" stroke="#43882d" stroke-width="0.15">Capital Budget</text>
<line x1="1283.4" y1="728.4" x2="1283.4" y2="858.5" stroke="#444" stroke-width="1"/>
<text x="1283.4" y="869.6" font-size="7" text-anchor="middle" fill="#43882d" font-weight="400" letter-spacing="0.2" stroke="#43882d" stroke-width="0.15">0</text>
<text x="1358.4" y="869.6" font-size="7" text-anchor="middle" fill="#43882d" font-weight="400" letter-spacing="0.2" stroke="#43882d" stroke-width="0.15">50,000</text>
<text x="1433.4" y="869.6" font-size="7" text-anchor="middle" fill="#43882d" font-weight="400" letter-spacing="0.2" stroke="#43882d" stroke-width="0.15">100,000</text>
<rect x="1288.5" y="878.4" width="8.2" height="8.2" fill="#93c47d"/>
<text x="1302.2" y="885.2" font-size="7" text-anchor="start" fill="#43882d" font-weight="400" letter-spacing="0.25" stroke="#43882d" stroke-width="0.12">AMOUNT ALLOCATED</text>
<rect x="1389" y="878.4" width="8.2" height="8.2" fill="#6aa84f"/>
<text x="1402" y="885.2" font-size="7" text-anchor="start" fill="#43882d" font-weight="400" letter-spacing="0.25" stroke="#43882d" stroke-width="0.12">AMOUNT USED</text>
<rect x="1224.5" y="896.5" width="293" height="108" fill="#fff" stroke="#cfcfcf" stroke-width="1"/>
<circle cx="1371.2" cy="950.8" r="48.8" fill="#b6d7a8"/>
<path d="M1371.2,950.8 L1372.03,902.01 A48.8,48.8 0 1 1 1368.53,999.53 Z" fill="#93c47d"/>
<line x1="1229.9" y1="950" x2="1325.7" y2="950" stroke="#a8a8a8" stroke-width="1"/><circle cx="1325.7" cy="950" r="1.1" fill="#a8a8a8"/>
<line x1="1416.7" y1="951.8" x2="1512.5" y2="951.8" stroke="#a8a8a8" stroke-width="1"/><circle cx="1416.7" cy="951.8" r="1.1" fill="#a8a8a8"/>
<text x="1229.9" y="947" font-size="6.9" text-anchor="start" fill="#38761d" font-weight="700">AMOUNT USED</text>
<text x="1229.9" y="958" font-size="6.4" text-anchor="start" fill="#9a9a9a" font-weight="400" letter-spacing="0.3">49.4%</text>
<text x="1512.5" y="949" font-size="6.9" text-anchor="end" fill="#38761d" font-weight="700">AMOUNT ALLOCATED</text>
<text x="1512.5" y="960.2" font-size="6.4" text-anchor="end" fill="#9a9a9a" font-weight="400" letter-spacing="0.3">50.6%</text>
<rect x="581.5" y="1024.5" width="293" height="135.5" fill="#fff" stroke="#cfcfcf" stroke-width="1"/>
<text x="0" y="0" transform="translate(728,1045.8) scale(0.9,1)" font-size="8.6" text-anchor="middle" fill="#38761d" font-weight="700">TIMELINE CHART</text>
<line x1="629.4" y1="1061.5" x2="861.1" y2="1061.5" stroke="#d6d6d6" stroke-width="1"/>
<text x="0" y="0" transform="translate(625,1063.9) scale(0.88,1)" font-size="6.6" text-anchor="end" fill="#4a8a33" font-weight="400">10/29/2023</text>
<line x1="629.4" y1="1093.5" x2="861.1" y2="1093.5" stroke="#d6d6d6" stroke-width="1"/>
<text x="0" y="0" transform="translate(625,1095.9) scale(0.88,1)" font-size="6.6" text-anchor="end" fill="#4a8a33" font-weight="400">10/15/2023</text>
<line x1="629.4" y1="1124.5" x2="861.1" y2="1124.5" stroke="#d6d6d6" stroke-width="1"/>
<text x="0" y="0" transform="translate(625,1126.9) scale(0.88,1)" font-size="6.6" text-anchor="end" fill="#4a8a33" font-weight="400">10/1/2023</text>
<path d="M700,1160 L717.5,1140 C740,1112 752,1094 768,1090.6 C775,1089.5 782,1091 790,1090.5 L861,1086.2 L861,1160 Z" fill="#d9ead3" fill-opacity="0.45"/>
<path d="M700,1160 L717.5,1140 C740,1112 752,1094 768,1090.6 C775,1089.5 782,1091 790,1090.5 L861,1086.2" fill="none" stroke="#d9ead3" stroke-width="1"/>
<path d="M733,1160 L745,1140 C756,1126 762,1122.5 772.3,1121.3 C780,1120.5 786,1121 792,1120 L861,1111 L861,1160 Z" fill="#b6d7a8" fill-opacity="0.4"/>
<path d="M733,1160 L745,1140 C756,1126 762,1122.5 772.3,1121.3 C780,1120.5 786,1121 792,1120 L861,1111" fill="none" stroke="#93c47d" stroke-width="1.2"/>
<rect x="1224.5" y="1024.5" width="293" height="135.5" fill="#fff" stroke="#cfcfcf" stroke-width="1"/>
<text x="0" y="0" transform="translate(1371.5,1045.8) scale(0.9,1)" font-size="8.6" text-anchor="middle" fill="#38761d" font-weight="700">ROI SUMMARY</text>
<line x1="1273.8" y1="1061.5" x2="1504" y2="1061.5" stroke="#d6d6d6" stroke-width="1"/>
<text x="1268.7" y="1064.6" font-size="8.6" text-anchor="end" fill="#4a8a33" font-weight="400">600,000</text>
<line x1="1273.8" y1="1132.5" x2="1504" y2="1132.5" stroke="#d6d6d6" stroke-width="1"/>
<text x="1268.7" y="1135.6" font-size="8.6" text-anchor="end" fill="#4a8a33" font-weight="400">400,000</text>
<rect x="1406.8" y="1079.2" width="63" height="80" fill="#93c47d"/>
</svg>
</div>
</body></html>
